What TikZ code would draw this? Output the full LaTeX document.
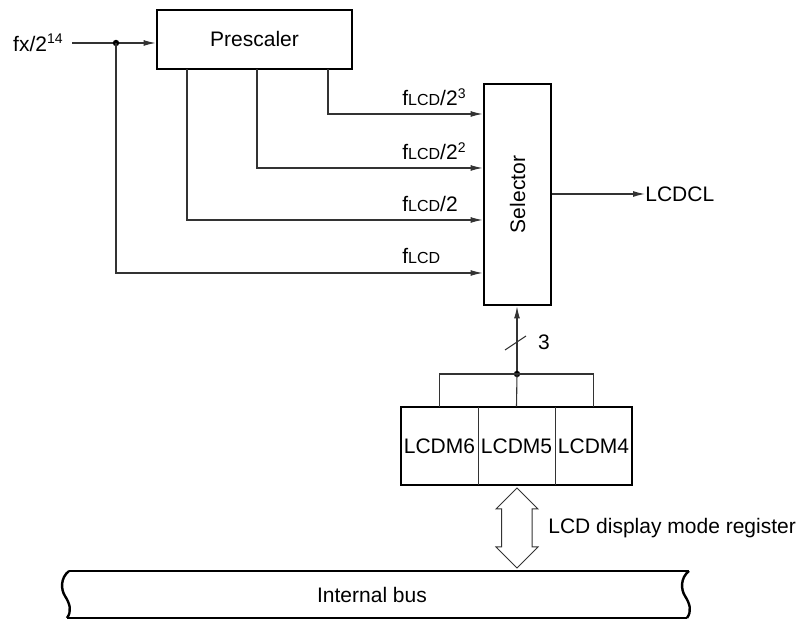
\documentclass[tikz,border=0pt]{standalone}
\usepackage{fontspec}
\setmainfont{Liberation Sans}
\usetikzlibrary{arrows.meta}
\begin{document}
\begin{tikzpicture}[x=0.5pt,y=-0.5pt,
  txt/.style={font=\fontsize{10.5}{12}\selectfont, inner sep=0pt},
  box/.style={draw, line width=1.4pt, inner sep=0pt, txt},
  sig/.style={draw=black!80, line width=0.55pt},
  arr/.style={sig, -{Latex[length=6pt,width=3pt]}},
  dot/.style={fill=black}]
\useasboundingbox (0,0) rectangle (804,619);

% boxes
\node[box, minimum width=97.5pt, minimum height=29.5pt] (pre) at (254.5,39.5) {Prescaler};
\node[box, minimum width=33.5pt, minimum height=110.5pt] (sel) at (517.5,194.5) {};
\node[txt, rotate=90] (seltxt) at (517.5,194.5) {Selector};
\node[box, minimum width=115.5pt, minimum height=39pt] (reg) at (516.5,446) {};
\node[txt, minimum width=38.5pt, minimum height=39pt] (c6) at (439.5,446) {LCDM6};
\node[txt, minimum width=38.5pt, minimum height=39pt] (c5) at (516.5,446) {LCDM5};
\node[txt, minimum width=38.5pt, minimum height=39pt] (c4) at (593.5,446) {LCDM4};
\draw[sig] (c6.north east) -- (c6.south east);
\draw[sig] (c5.north east) -- (c5.south east);

% input
\node[txt, anchor=east] (fx) at (64,43) {fx/2\textsuperscript{\fontsize{7}{8}\selectfont 14}};
\coordinate (in) at (72,43);
\coordinate (j1) at (116,43);
\draw[arr] (in) -- (in -| pre.west);
\fill[dot] (j1) circle (1.6pt);

% prescaler taps
\coordinate (t1) at (187,69);
\coordinate (t2) at (257,69);
\coordinate (t3) at (328,69);
\coordinate (y3) at (0,114);
\coordinate (y2) at (0,168);
\coordinate (y1) at (0,220);
\coordinate (y0) at (0,273);
\draw[arr] (t3) |- (y3 -| sel.west);
\draw[arr] (t2) |- (y2 -| sel.west);
\draw[arr] (t1) |- (y1 -| sel.west);
\draw[arr] (j1) |- (y0 -| sel.west);

\node[txt, anchor=base west] (l3) at (402,106) {f{\fontsize{8}{9}\selectfont LCD}/2\textsuperscript{\fontsize{7}{8}\selectfont 3}};
\node[txt, anchor=base west] (l2) at (402,160) {f{\fontsize{8}{9}\selectfont LCD}/2\textsuperscript{\fontsize{7}{8}\selectfont 2}};
\node[txt, anchor=base west] (l1) at (402,212) {f{\fontsize{8}{9}\selectfont LCD}/2};
\node[txt, anchor=base west] (l0) at (402,264) {f{\fontsize{8}{9}\selectfont LCD}};

% output
\node[txt, anchor=west] (lcdcl) at (645,194) {LCDCL};
\coordinate (yo) at (0,194);
\draw[arr] (yo -| sel.east) -- (lcdcl.west);

% mode bits to selector
\coordinate (j2) at (517,374);
\draw[arr] (j2) -- (j2 |- sel.south);
\fill[dot] (j2) circle (1.6pt);
\draw[sig] (c6.north) |- (j2) -| (c4.north);
\draw[sig] (c5.north) -- (j2);
\coordinate (s1) at (505,350);
\coordinate (s2) at (526,336);
\draw[sig] (s1) -- (s2);
\node[txt] (three) at (544,342) {3};

% double arrow
\draw[sig, line width=0.5pt] (517,488) -- (538,509) -- (532,509) -- (532,547) -- (538,547)
  -- (517,568) -- (496,547) -- (501.5,547) -- (501.5,509) -- (496,509) -- cycle;
\node[txt, anchor=west] (regname) at (548,528) {LCD display mode register};

% internal bus
\draw[line width=1.2pt] (69,571) -- (689,571);
\draw[line width=1.2pt] (67,618) -- (687,618);
\draw[line width=1.2pt] (69,571) .. controls (60,578) and (61,590) .. (65,596)
  .. controls (70,604) and (72,611) .. (67,618);
\draw[line width=1.2pt] (689,571) .. controls (680,578) and (681,590) .. (685,596)
  .. controls (690,604) and (692,611) .. (687,618);
\node[txt] (bus) at (372,595) {Internal bus};
\end{tikzpicture}
\end{document}
